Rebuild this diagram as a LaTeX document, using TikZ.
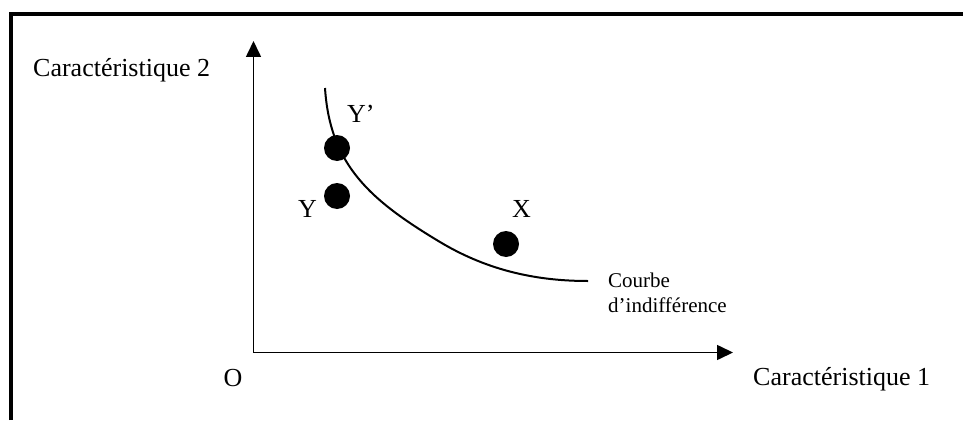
\documentclass[tikz,border=0pt]{standalone}
\usepackage{fontspec}
\setmainfont{Liberation Serif}
\usetikzlibrary{arrows.meta}
\tikzset{
  bigtext/.style={font=\fontsize{26}{30}\selectfont, inner sep=0pt},
  smalltext/.style={font=\fontsize{21}{25}\selectfont, inner sep=0pt},
  dot/.style={circle, fill=black, draw=none, minimum size=26pt, inner sep=0pt},
  axis/.style={line width=1.6pt, {Triangle[length=16pt,width=15pt]}-{Triangle[length=16pt,width=15pt]}},
  frameline/.style={line width=4pt},
  curveline/.style={line width=2pt}
}
\begin{document}
\begin{tikzpicture}[x=1pt,y=-1pt]
\useasboundingbox (0,0) rectangle (963,420);
% frame
\draw[frameline] (11,420) -- (11,14.5) -- (963,14.5);
% axes
\coordinate (ytip) at (253.5,41);
\coordinate (xtip) at (733,352.5);
\draw[axis] (ytip) |- (xtip);
% labels
\node[bigtext, anchor=base west] (c2) at (33,76) {Caractéristique 2};
\node[bigtext, anchor=base west] (c1) at (753,385) {Caractéristique 1};
\node[bigtext, anchor=base] (o) at (233,386) {O};
% curve
\coordinate (cstart) at (325,88);
\coordinate (cmid) at (440,242);
\coordinate (cend) at (588,281);
\draw[curveline] (cstart) .. controls (330,165) and (370,200) .. (cmid)
  .. controls (490,272) and (540,281) .. (cend);
% dots
\node[dot] (yp) at (337,148) {};
\node[dot] (y) at (337,196) {};
\node[dot] (x) at (506,244) {};
\node[bigtext, anchor=base west] (ypl) at (347,122) {Y’};
\node[bigtext, anchor=base west] (yl) at (298,217) {Y};
\node[bigtext, anchor=base west] (xl) at (512,217) {X};
\node[smalltext, anchor=base west] (cb1) at (608,287) {Courbe};
\node[smalltext, anchor=base west] (cb2) at (608,312) {d’indifférence};
\end{tikzpicture}
\end{document}
